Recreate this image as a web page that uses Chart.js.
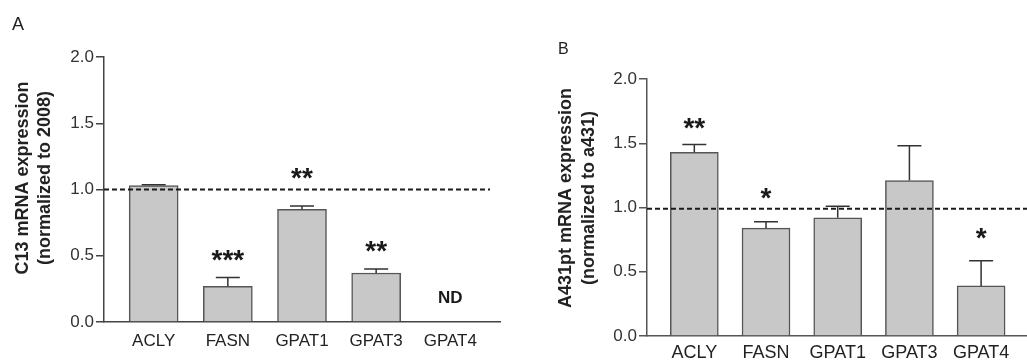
<!DOCTYPE html>
<html>
<head>
<meta charset="utf-8">
<script src="https://cdn.jsdelivr.net/npm/chart.js@4"></script>
<style>
  html, body { margin: 0; padding: 0; background: #fff; }
  #wrap { position: relative; width: 1027px; height: 361px; }
  canvas { position: absolute; top: 0; }
  #chartA { left: 0; }
  #chartB { left: 515px; }
</style>
</head>
<body>
<div id="wrap">
  <canvas id="chartA" width="515" height="361"></canvas>
  <canvas id="chartB" width="512" height="361"></canvas>
</div>
<script>
const genes = ['ACLY', 'FASN', 'GPAT1', 'GPAT3', 'GPAT4'];
const yTicks = [0, 0.5, 1.0, 1.5, 2.0];

// panel A - C13, normalized to 2008 (GPAT4 not detected)
const valuesA = [1.03, 0.27, 0.85, 0.37, null];
const errorsA = [0.005, 0.065, 0.025, 0.03, null];
const marksA = ['', '***', '**', '**', 'ND'];
const markLevelA = [null, 0.50, 1.12, 0.57, 0.19];

// panel B - A431pt, normalized to a431
const valuesB = [1.43, 0.84, 0.92, 1.21, 0.39];
const errorsB = [0.06, 0.05, 0.09, 0.27, 0.195];
const marksB = ['**', '*', '', '', '*'];
const markLevelB = [1.65, 1.11, null, null, 0.80];

const FONT = "'Liberation Sans', Arial, sans-serif";

// error bars, reference line, stars, panel letter and y title
const extras = {
  id: 'extras',
  afterDatasetsDraw(chart, args, o) {
    const ctx = chart.ctx;
    const xs = chart.scales.x, ys = chart.scales.y;
    const area = chart.chartArea;
    const pts = chart.data.datasets[0].data;

    ctx.save();
    ctx.strokeStyle = '#333';
    ctx.lineWidth = 1.5;
    pts.forEach((p, i) => {
      if (p.y == null || o.errors[i] == null) return;
      const x = xs.getPixelForValue(p.x);
      const y0 = ys.getPixelForValue(p.y);
      const y1 = ys.getPixelForValue(p.y + o.errors[i]);
      ctx.beginPath();
      ctx.moveTo(x, y0);
      ctx.lineTo(x, y1);
      ctx.moveTo(x - 12, y1);
      ctx.lineTo(x + 12, y1);
      ctx.stroke();
    });

    // dashed reference line
    const yr = ys.getPixelForValue(o.refLine);
    ctx.strokeStyle = '#1a1a1a';
    ctx.lineWidth = 2;
    ctx.setLineDash([5, 3]);
    ctx.beginPath();
    ctx.moveTo(area.left, yr);
    ctx.lineTo(o.refEnd || area.right, yr);
    ctx.stroke();
    ctx.setLineDash([]);

    // significance marks
    ctx.fillStyle = '#1a1a1a';
    ctx.textAlign = 'center';
    ctx.textBaseline = 'alphabetic';
    o.marks.forEach((m, i) => {
      if (!m) return;
      ctx.font = m === 'ND' ? 'bold 17px ' + FONT : 'bold 28px ' + FONT;
      const mt = ctx.measureText(m);
      const cy = ys.getPixelForValue(o.levels[i]);
      const x = xs.getPixelForValue(i);
      ctx.fillText(m, x, cy + (mt.actualBoundingBoxAscent - mt.actualBoundingBoxDescent) / 2);
    });

    // panel letter
    ctx.textAlign = 'left';
    ctx.font = o.letterSize + 'px ' + FONT;
    ctx.fillStyle = '#222';
    ctx.fillText(o.letter, o.letterX, o.letterY);

    // y axis title, two rotated lines
    ctx.font = 'bold 18px ' + FONT;
    ctx.textAlign = 'center';
    ctx.textBaseline = 'middle';
    o.title.forEach((line, k) => {
      ctx.save();
      ctx.translate(o.titleX[k], o.titleY);
      ctx.rotate(-Math.PI / 2);
      ctx.fillText(line, 0, 0);
      ctx.restore();
    });
    ctx.restore();
  }
};

function makeChart(id, values, cfg) {
  return new Chart(document.getElementById(id), {
    type: 'bar',
    data: {
      datasets: [{
        data: genes.map((g, i) => ({ x: i, y: values[i] })),
        backgroundColor: '#c8c8c8',
        borderColor: '#555',
        borderWidth: 1.5,
        barThickness: cfg.barWidth
      }]
    },
    options: {
      responsive: false,
      animation: false,
      layout: { padding: cfg.padding },
      plugins: {
        legend: { display: false },
        tooltip: { enabled: false },
        extras: cfg.extras
      },
      scales: {
        x: {
          type: 'linear',
          offset: false,
          min: cfg.xMin,
          max: cfg.xMax,
          afterBuildTicks: (s) => { s.ticks = genes.map((g, i) => ({ value: i })); },
          afterFit: (s) => { s.height = cfg.xHeight; },
          ticks: {
            autoSkip: false,
            maxRotation: 0,
            padding: cfg.xPad,
            color: '#222',
            font: { family: FONT, size: cfg.xFont },
            callback: (v) => genes[v]
          },
          grid: { display: true, drawOnChartArea: false, drawTicks: false },
          border: { color: cfg.axisColor, width: 1.5 }
        },
        y: {
          min: 0,
          max: 2,
          afterBuildTicks: (s) => { s.ticks = yTicks.map(v => ({ value: v })); },
          afterFit: (s) => { s.width = cfg.yWidth; },
          ticks: {
            padding: 2,
            color: '#333',
            font: { family: FONT, size: 17 },
            callback: (v) => v.toFixed(1)
          },
          grid: { drawOnChartArea: false, tickLength: 8, color: cfg.axisColor, lineWidth: 1.5 },
          border: { color: cfg.axisColor, width: 1.5 }
        }
      }
    },
    plugins: [extras]
  });
}

makeChart('chartA', valuesA, {
  barWidth: 49,
  padding: { left: 0, right: 15, top: 57, bottom: 0 },
  xMin: -0.67, xMax: 4.67,
  xHeight: 39, xPad: 9, xFont: 17,
  yWidth: 104,
  axisColor: '#444',
  extras: {
    errors: errorsA, marks: marksA, levels: markLevelA,
    refLine: 1.0, refEnd: 490,
    letter: 'A', letterSize: 18, letterX: 12, letterY: 30,
    title: ['C13 mRNA expression', '(normalized to 2008)'],
    titleX: [22.7, 45.2], titleY: 178
  }
});

makeChart('chartB', valuesB, {
  barWidth: 48,
  padding: { left: 28, right: 0, top: 79, bottom: 0 },
  xMin: -0.66, xMax: 4.64,
  xHeight: 25, xPad: 6, xFont: 18,
  yWidth: 104,
  axisColor: '#555',
  extras: {
    errors: errorsB, marks: marksB, levels: markLevelB,
    refLine: 0.99, refEnd: null,
    letter: 'B', letterSize: 16, letterX: 43, letterY: 54,
    title: ['A431pt mRNA expression', '(normalized to a431)'],
    titleX: [51, 74.5], titleY: 198
  }
});
</script>
</body>
</html>
